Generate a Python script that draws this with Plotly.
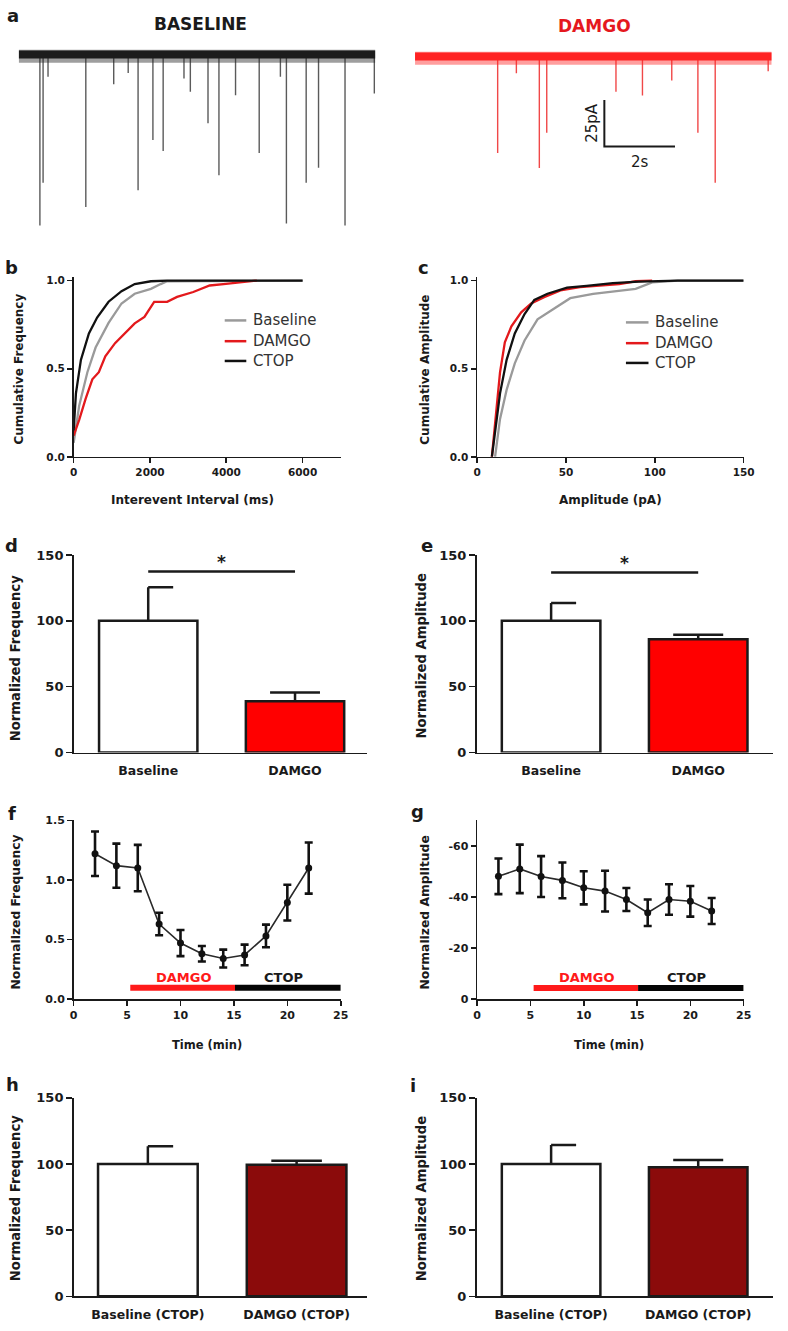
import plotly.graph_objects as go

W, H = 788, 1331
FONT = "DejaVu Sans"
INK = "#1a1a1a"
RED = "#ff0000"
CURVE_RED = "#e3191c"
GRAY = "#9a9a9a"
DARK_RED = "#8b0b0b"

# ---------------- DATA ----------------
# (a) example traces: event times (s) and amplitudes (pA)
TRACE_DUR = 10.1
base_event_t = [0.60, 0.69, 0.83, 1.90, 2.69, 3.10, 3.38, 3.80, 4.09, 4.68, 4.86, 5.36,
                5.67, 6.14, 6.81, 7.41, 7.58, 8.14, 8.49, 9.24, 10.07]
base_event_amp = [92, 69, 12, 82, 16, 10, 73, 46, 52, 13, 20, 37,
                  65, 22, 53, 12, 91, 69, 61, 92, 21]
damgo_event_t = [2.34, 2.87, 3.52, 3.73, 5.69, 6.44, 7.27, 8.01, 8.50, 10.0]
damgo_event_amp = [52, 9, 60, 41, 19, 21, 13, 41, 68, 8]
SCALE_PA = 25
SCALE_S = 2

# (b) cumulative frequency vs interevent interval (ms)
ii_base_x = [0, 145, 360, 575, 915, 1255, 1600, 2025, 2280, 2450, 6000]
ii_base_y = [0.08, 0.29, 0.48, 0.62, 0.76, 0.87, 0.925, 0.953, 0.98, 0.996, 1.0]
ii_damgo_x = [0, 145, 315, 490, 660, 830, 1085, 1340, 1600, 1855, 2110, 2450,
              2710, 3135, 3565, 3990, 4420, 4800]
ii_damgo_y = [0.12, 0.21, 0.33, 0.44, 0.48, 0.57, 0.645, 0.70, 0.757, 0.794,
              0.879, 0.879, 0.907, 0.935, 0.972, 0.981, 0.99, 1.0]
ii_ctop_x = [0, 60, 190, 400, 615, 915, 1255, 1600, 2025, 2450, 6000]
ii_ctop_y = [0.15, 0.36, 0.55, 0.70, 0.79, 0.88, 0.94, 0.98, 0.996, 1.0, 1.0]

# (c) cumulative amplitude vs amplitude (pA)
amp_base_x = [10.1, 12.9, 16.6, 21.2, 26.7, 34, 43.2, 52.4, 65.3, 80, 89.2, 98.5, 113, 150]
amp_base_y = [0, 0.215, 0.38, 0.53, 0.66, 0.78, 0.84, 0.90, 0.925, 0.944, 0.953, 0.99, 1.0, 1.0]
amp_damgo_x = [8.3, 10.1, 12.9, 15.6, 19.3, 24.8, 30.4, 37.7, 46.9, 57.9, 70.8, 80, 89.2, 98.5]
amp_damgo_y = [0, 0.18, 0.48, 0.65, 0.74, 0.82, 0.87, 0.906, 0.944, 0.963, 0.972, 0.98, 0.996, 1.0]
amp_ctop_x = [8.3, 10.1, 12.9, 16.6, 21.2, 26.7, 32.2, 39.6, 50.6, 61.6, 76.4, 91, 113, 150]
amp_ctop_y = [0, 0.14, 0.36, 0.55, 0.70, 0.81, 0.89, 0.925, 0.96, 0.97, 0.985, 0.994, 1.0, 1.0]

# (d) (e) normalized bars
bar_cats = ["Baseline", "DAMGO"]
norm_freq = [100, 39]
norm_freq_err = [25.5, 6.5]
norm_amp = [100, 86]
norm_amp_err = [13.5, 3.5]
sig_freq_y = 137.5
sig_amp_y = 136.8

# (f) (g) time course
time_min = [2, 4, 6, 8, 10, 12, 14, 16, 18, 20, 22]
freq_time = [1.22, 1.12, 1.10, 0.63, 0.47, 0.38, 0.34, 0.37, 0.53, 0.81, 1.10]
freq_time_err = [0.187, 0.185, 0.195, 0.095, 0.11, 0.065, 0.075, 0.087, 0.095, 0.15, 0.215]
amp_time = [-48.1, -51, -48, -46.5, -43.6, -42.3, -39, -33.8, -39, -38.3, -34.5]
amp_time_err = [7, 9.5, 8, 7, 6.5, 8, 4.5, 5.2, 6, 6, 5.1]
damgo_period = [5.3, 15.1]
ctop_period = [15.1, 25]

# (h) (i) CTOP bars
ctop_cats = ["Baseline (CTOP)", "DAMGO (CTOP)"]
ctop_freq = [100, 99.5]
ctop_freq_err = [13.5, 3]
ctop_amp = [100, 97.5]
ctop_amp_err = [14.3, 5.5]

# ---------------- HELPERS ----------------
def dom_x(a, b):
    return [a / W, b / W]

def dom_y(top, bottom):
    return [1 - bottom / H, 1 - top / H]

def px(x):
    return x / W

def py(y):
    return 1 - y / H

def tfont(size, bold=True, color=INK):
    d = dict(family=FONT, size=size, color=color)
    if bold:
        d["weight"] = "bold"
    return d

def axstyle(**kw):
    d = dict(showline=True, linecolor=INK, linewidth=1.6, ticks="outside",
             ticklen=5, tickwidth=1.6, tickcolor=INK, showgrid=False,
             zeroline=False, tickfont=tfont(11), fixedrange=True)
    d.update(kw)
    return d

fig = go.Figure()
layout = dict(width=W, height=H, margin=dict(l=0, r=0, t=0, b=0),
              plot_bgcolor="white", paper_bgcolor="white", showlegend=False,
              hovermode=False)
annotations = []
shapes = []

def add_text(text, x, y, size, bold=True, color=INK, angle=0, xanchor="center",
             yanchor="middle", xref="paper", yref="paper"):
    annotations.append(dict(text=text, x=x, y=y, xref=xref, yref=yref,
                            showarrow=False, font=tfont(size, bold, color),
                            textangle=angle, xanchor=xanchor, yanchor=yanchor))

# ---------------- PANEL A ----------------
PX_PER_S = 36
PX_PER_PA = 1.88

def spikes(ts, amps):
    xs, ys = [], []
    for t, a in zip(ts, amps):
        xs += [t, t, None]
        ys += [0, -a, None]
    return xs, ys

for k, (x0px, base_px, ts, amps, band_col, fuzz_col, spike_col) in enumerate([
        (15, 48, base_event_t, base_event_amp, "#1c1c1c", "rgba(40,40,40,0.45)", "#5a5a5a"),
        (419, 50, damgo_event_t, damgo_event_amp, "#ff2222", "rgba(255,40,40,0.45)", "#f04848")]):
    n = k + 1
    xa = "x" if n == 1 else f"x{n}"
    ya = "y" if n == 1 else f"y{n}"
    layout["xaxis" if n == 1 else f"xaxis{n}"] = dict(
        domain=dom_x(x0px, x0px + TRACE_DUR * PX_PER_S), range=[0, TRACE_DUR],
        visible=False, anchor=ya, fixedrange=True)
    layout["yaxis" if n == 1 else f"yaxis{n}"] = dict(
        domain=dom_y(30, 240), range=[-(240 - base_px) / PX_PER_PA, (base_px - 30) / PX_PER_PA],
        visible=False, anchor=xa, fixedrange=True)
    sx, sy = spikes(ts, amps)
    fig.add_trace(go.Scatter(x=sx, y=sy, mode="lines", line=dict(color=spike_col, width=1.4),
                             xaxis=xa, yaxis=ya, hoverinfo="skip"))
    fig.add_trace(go.Scatter(x=[0, TRACE_DUR], y=[-1, -1], mode="lines",
                             line=dict(color=fuzz_col, width=13), xaxis=xa, yaxis=ya))
    fig.add_trace(go.Scatter(x=[0, TRACE_DUR], y=[0, 0], mode="lines",
                             line=dict(color=band_col, width=8), xaxis=xa, yaxis=ya))

# scale bar in DAMGO trace axes
sb_x0 = (612 - 419) / PX_PER_S
sb_y0 = -(141 - 50) / PX_PER_PA
fig.add_trace(go.Scatter(x=[sb_x0, sb_x0, sb_x0 + SCALE_S],
                         y=[sb_y0 + SCALE_PA, sb_y0, sb_y0], mode="lines",
                         line=dict(color=INK, width=2), xaxis="x2", yaxis="y2"))
add_text(f"{SCALE_PA}pA", sb_x0 - 12 / PX_PER_S, sb_y0 + SCALE_PA / 2, 15, bold=False,
         angle=-90, xref="x2", yref="y2")
add_text(f"{SCALE_S}s", sb_x0 + SCALE_S / 2, sb_y0 - 16 / PX_PER_PA, 15, bold=False,
         xref="x2", yref="y2")
add_text("BASELINE", px(200), py(17), 17)
add_text("DAMGO", px(602), py(19), 17, color="#e5181e")

# ---------------- PANELS B, C ----------------
def cdf_panel(n, xdom, xrange, xticks, xs_list, ys_list, cols):
    xa, ya = f"x{n}", f"y{n}"
    layout[f"xaxis{n}"] = axstyle(domain=dom_x(*xdom), range=xrange, tickvals=xticks,
                                  anchor=ya, tickfont=tfont(10.5))
    layout[f"yaxis{n}"] = axstyle(domain=dom_y(273.1, 455), range=[0, 1.02],
                                  tickvals=[0, 0.5, 1.0], ticktext=["0.0", "0.5", "1.0"],
                                  anchor=xa, tickfont=tfont(10.5))
    for xs, ys, c in zip(xs_list, ys_list, cols):
        fig.add_trace(go.Scatter(x=xs, y=ys, mode="lines", line=dict(color=c, width=2.3),
                                 xaxis=xa, yaxis=ya, cliponaxis=True))

cdf_panel(3, (71, 343.3), [0, 7000], [0, 2000, 4000, 6000],
          [ii_base_x, ii_damgo_x, ii_ctop_x], [ii_base_y, ii_damgo_y, ii_ctop_y],
          [GRAY, CURVE_RED, "#111111"])
cdf_panel(4, (482.3, 754), [0, 150], [0, 50, 100, 150],
          [amp_base_x, amp_damgo_x, amp_ctop_x], [amp_base_y, amp_damgo_y, amp_ctop_y],
          [GRAY, CURVE_RED, "#111111"])

legend_names = ["Baseline", "DAMGO", "CTOP"]
legend_cols = [GRAY, CURVE_RED, "#111111"]
for (lx0, lx1, tx, ys) in [(225, 247, 252, [317, 338, 358]), (634, 657, 662, [319, 340, 360])]:
    for name, c, yy in zip(legend_names, legend_cols, ys):
        shapes.append(dict(type="line", xref="paper", yref="paper", x0=px(lx0), x1=px(lx1),
                           y0=py(yy), y1=py(yy), line=dict(color=c, width=2.5)))
        add_text(name, px(tx), py(yy), 15, bold=False, color="#333333", xanchor="left")

add_text("Cumulative Frequency", px(15), py(366), 12, angle=-90)
add_text("Interevent Interval (ms)", px(192), py(499), 12)
add_text("Cumulative Amplitude", px(429), py(367), 12, angle=-90)
add_text("Amplitude (pA)", px(618), py(499), 12)

# ---------------- BAR PANELS ----------------
def bar_panel(n, xdom, xrange, ydom, cats, vals, errs, fills, sig_y=None):
    xa, ya = f"x{n}", f"y{n}"
    layout[f"xaxis{n}"] = axstyle(domain=dom_x(*xdom), range=xrange, tickvals=[0, 1],
                                  ticktext=cats, tickcolor="rgba(0,0,0,0)", ticklen=6,
                                  anchor=ya, tickfont=tfont(12.5))
    layout[f"yaxis{n}"] = axstyle(domain=dom_y(*ydom), range=[0, 150],
                                  tickvals=[0, 50, 100, 150], anchor=xa, tickfont=tfont(13),
                                  ticklen=6)
    fig.add_trace(go.Bar(x=[0, 1], y=vals, width=0.67, xaxis=xa, yaxis=ya,
                         marker=dict(color=fills, line=dict(color=INK, width=2.5))))
    hw = 0.17
    left = [0, 1]  # baseline cap drawn to the right only, as in the original
    xs, ys = [], []
    for i, (v, e) in enumerate(zip(vals, errs)):
        xs += [i, i, None, i - left[i] * hw, i + hw, None]
        ys += [v, v + e, None, v + e, v + e, None]
    fig.add_trace(go.Scatter(x=xs, y=ys, mode="lines", line=dict(color=INK, width=2.5),
                             xaxis=xa, yaxis=ya, cliponaxis=False))
    if sig_y is not None:
        fig.add_trace(go.Scatter(x=[0, 1], y=[sig_y, sig_y], mode="lines",
                                 line=dict(color=INK, width=2.5), xaxis=xa, yaxis=ya))
        add_text("*", 0.5, sig_y + 7, 17, xref=xa, yref=ya)

bar_panel(5, (71, 370), [-0.508, 1.49], (554.3, 754), bar_cats, norm_freq, norm_freq_err,
          ["white", RED], sig_freq_y)
bar_panel(6, (481.7, 784), [-0.507, 1.509], (554.3, 754), bar_cats, norm_amp, norm_amp_err,
          ["white", RED], sig_amp_y)
bar_panel(9, (71, 370), [-0.499, 1.473], (1103.3, 1304), ctop_cats, ctop_freq, ctop_freq_err,
          ["white", DARK_RED])
bar_panel(10, (481.7, 784), [-0.507, 1.509], (1103.3, 1304), ctop_cats, ctop_amp, ctop_amp_err,
          ["white", DARK_RED])

add_text("Normalized Frequency", px(12), py(658), 13.2, angle=-90)
add_text("Normalized Amplitude", px(426), py(656), 13.2, angle=-90)
add_text("Normalized Frequency", px(12), py(1204), 13.2, angle=-90)
add_text("Normalized Amplitude", px(426), py(1205), 13.2, angle=-90)

# ---------------- TIME COURSE PANELS ----------------
def time_panel(n, xdom, yrange, yticks, yticktext, vals, errs, bar_y, label_y):
    xa, ya = f"x{n}", f"y{n}"
    layout[f"xaxis{n}"] = axstyle(domain=dom_x(*xdom), range=[0, 25],
                                  tickvals=[0, 5, 10, 15, 20, 25], anchor=ya)
    layout[f"yaxis{n}"] = axstyle(domain=dom_y(822.7, 1003.3), range=yrange,
                                  tickvals=yticks, ticktext=yticktext, anchor=xa)
    fig.add_trace(go.Scatter(x=damgo_period, y=[bar_y, bar_y], mode="lines",
                             line=dict(color="#ff1a1a", width=6), xaxis=xa, yaxis=ya))
    fig.add_trace(go.Scatter(x=ctop_period, y=[bar_y, bar_y], mode="lines",
                             line=dict(color="#050505", width=6), xaxis=xa, yaxis=ya))
    fig.add_trace(go.Scatter(x=time_min, y=vals, mode="lines+markers",
                             line=dict(color="#2a2a2a", width=1.6),
                             marker=dict(color="#111111", size=7),
                             error_y=dict(type="data", array=errs, visible=True,
                                          color="#111111", thickness=2.6, width=4),
                             xaxis=xa, yaxis=ya, cliponaxis=False))
    add_text("DAMGO", sum(damgo_period) / 2 + 0.15, label_y, 13, color="#ff1a1a", xref=xa, yref=ya)
    add_text("CTOP", sum(ctop_period) / 2 - 0.4, label_y, 13, xref=xa, yref=ya)

time_panel(7, (71, 343.3), [0, 1.5], [0, 0.5, 1.0, 1.5], ["0.0", "0.5", "1.0", "1.5"],
           freq_time, freq_time_err, 0.094, 0.18)
time_panel(8, (482.3, 754), [0, -70], [0, -20, -40, -60], ["0", "-20", "-40", "-60"],
           amp_time, amp_time_err, -4.3, -8.4)

add_text("Normalized Frequency", px(12), py(915), 12.3, angle=-90)
add_text("Normalized Amplitude", px(429), py(916), 12.3, angle=-90)
add_text("Time (min)", px(207), py(1050), 11.5)
add_text("Time (min)", px(617), py(1050), 11.5)

# ---------------- PANEL LETTERS ----------------
for letter, x, y in [("a", 9, 9), ("b", 8, 263), ("c", 428, 263), ("d", 8, 545),
                     ("e", 431, 545), ("f", 8, 816), ("g", 422, 814), ("h", 9, 1090),
                     ("i", 417, 1091)]:
    add_text(letter, px(x), py(y), 18)

layout["annotations"] = annotations
layout["shapes"] = shapes
fig.update_layout(**layout)
fig.write_html("out.html", config={"displayModeBar": False, "staticPlot": True},
               post_script="document.body.style.margin='0';document.body.style.overflow='hidden';")
